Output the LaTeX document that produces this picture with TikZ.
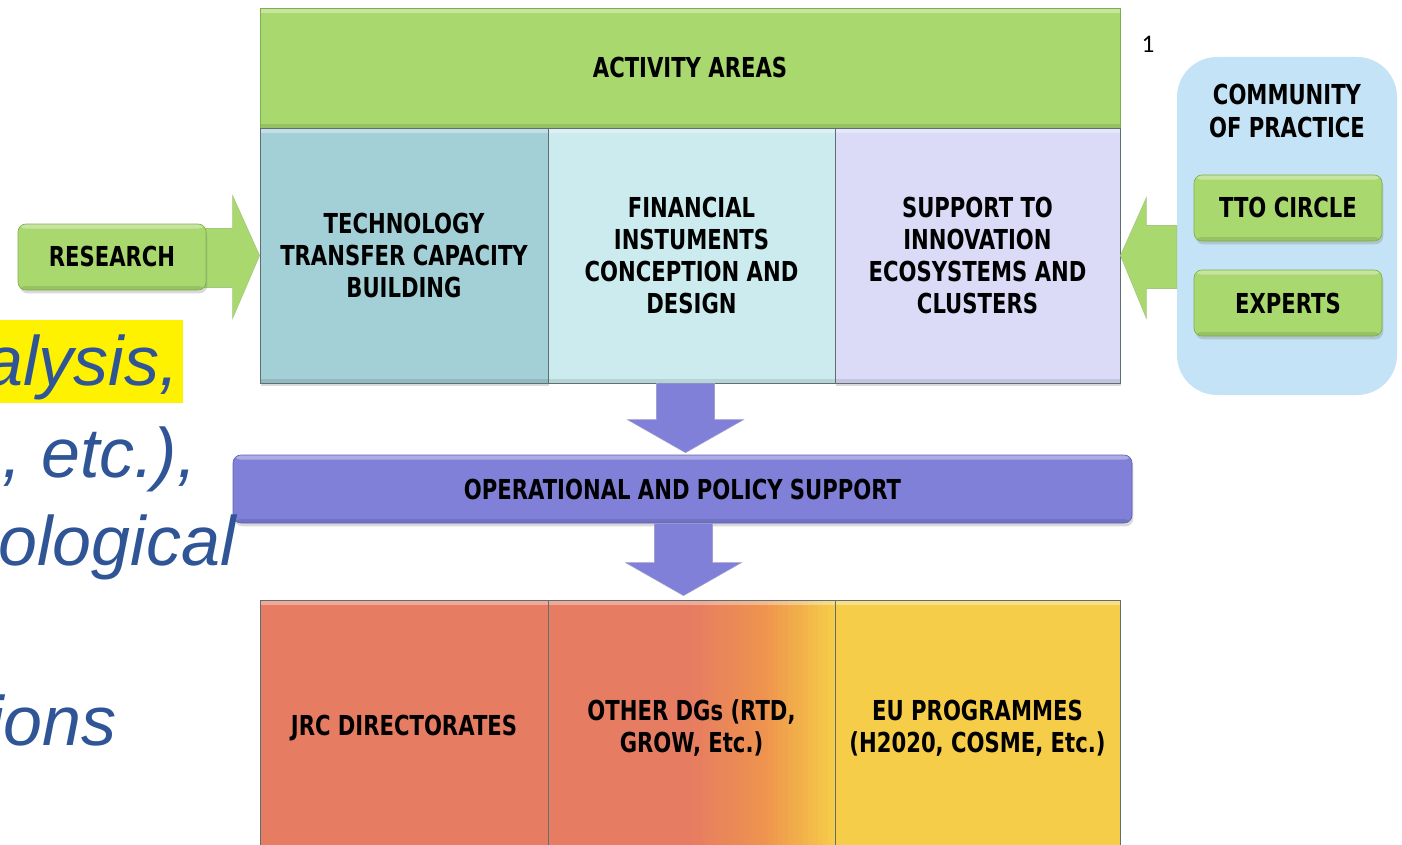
\documentclass[tikz,border=0pt]{standalone}
\usepackage{fontspec}
\usetikzlibrary{calc,shadows}
\newfontfamily\boxfont{DejaVu Sans}[FakeStretch=0.77]
\newfontfamily\itxfont{Liberation Sans}
\newfontfamily\numfont{Carlito}
\definecolor{grn}{RGB}{169,216,110}
\definecolor{grnD}{RGB}{125,175,75}
\definecolor{tealA}{RGB}{163,207,214}
\definecolor{tealB}{RGB}{203,235,238}
\definecolor{lilac}{RGB}{219,219,248}
\definecolor{purp}{RGB}{128,128,217}
\definecolor{purpD}{RGB}{95,95,175}
\definecolor{salm}{RGB}{230,124,98}
\definecolor{orng}{RGB}{238,148,78}
\definecolor{yel}{RGB}{246,205,72}
\definecolor{copb}{RGB}{197,227,246}
\definecolor{itblue}{RGB}{47,85,151}
\definecolor{edge}{RGB}{95,110,112}
\tikzset{
  lbl/.style={font=\boxfont\bfseries\fontsize{20.6}{24.2}\selectfont, text=black, align=center, inner sep=0pt},
  cell/.style={lbl, draw=edge, line width=0.6pt},
  shad/.style={drop shadow={shadow xshift=1pt, shadow yshift=-2.5pt, opacity=0.3}},
  bevel/.style={path picture={
     \fill[white, opacity=0.35] (path picture bounding box.north west) rectangle ([yshift=-3.5pt]path picture bounding box.north east);
     \fill[black, opacity=0.10] ([yshift=3pt]path picture bounding box.south west) rectangle (path picture bounding box.south east);}},
  gbox/.style={lbl, fill=grn, draw=grnD, line width=0.5pt, rounded corners=6pt,
     minimum width=141pt, minimum height=49.5pt, shad, bevel},
  garrow/.style={fill=grn, draw=grnD!70, line width=0.4pt},
  parrow/.style={fill=purp, draw=purpD!60, line width=0.4pt},
  itx/.style={font=\itxfont\itshape\fontsize{52.5}{62}\selectfont, text=itblue, inner sep=0pt},
}
\begin{document}
\begin{tikzpicture}[x=0.75pt, y=-0.75pt]
\useasboundingbox (0,0) rectangle (1402,845);

% community of practice container
\node[fill=copb, rounded corners=30pt, minimum width=165pt, minimum height=253.5pt, inner sep=0pt] (cop) at (1287,226) {};

% top boxes
\node[cell, fill=grn, draw=grnD, minimum width=645pt, minimum height=90pt, shad, bevel] (act) at (690,68) {ACTIVITY AREAS};
\node[cell, fill=tealA, minimum width=216pt, minimum height=191.25pt, shad, bevel] (b1) at (404,255.5) {TECHNOLOGY\\TRANSFER CAPACITY\\BUILDING};
\node[cell, fill=tealB, minimum width=215.25pt, minimum height=191.25pt, bevel] (b2) at (691.5,255.5) {FINANCIAL\\INSTUMENTS\\CONCEPTION AND\\DESIGN};
\node[cell, fill=lilac, minimum width=213.75pt, minimum height=191.25pt, shad, bevel] (b3) at (977.5,255.5) {SUPPORT TO\\INNOVATION\\ECOSYSTEMS AND\\CLUSTERS};

% arrow research -> b1
\coordinate (rese) at (206,257);
\path[garrow] ($(rese |- b1.west)+(-8,-27)$) -- ($(b1.west)+(-27,-27)$) -- ($(b1.west)+(-27,-60)$) -- (b1.west)
   -- ($(b1.west)+(-27,63)$) -- ($(b1.west)+(-27,32)$) -- ($(rese |- b1.west)+(-8,32)$) -- cycle;
\node[gbox] (res) at (112,257) {RESEARCH};

% arrow cop -> b3
\path[garrow] ($(cop.west |- b3.east)+(0,-30)$) -- ($(b3.east)+(26,-30)$) -- ($(b3.east)+(26,-58)$) -- (b3.east)
   -- ($(b3.east)+(26,63)$) -- ($(b3.east)+(26,33)$) -- ($(cop.west |- b3.east)+(0,33)$) -- cycle;

% community label and members
\node[lbl] (copl) at (1287,111) {COMMUNITY\\OF PRACTICE};
\node[gbox] (tto) at (1288,208) {TTO CIRCLE};
\node[gbox] (exp) at (1288,303) {EXPERTS};

% operational bar
\node[lbl, fill=purp, draw=purpD, line width=0.5pt, rounded corners=6pt, minimum width=674.25pt, minimum height=51pt, shad, bevel] (ops) at (682.5,489) {OPERATIONAL AND POLICY SUPPORT};

% down arrow b2 -> ops
\coordinate (t1) at ($(ops.north)+(3,-2)$);
\path[parrow] ($(b2.south -| t1)+(-29,0)$) -- ($(t1)+(-29,-33)$) -- ($(t1)+(-58,-33)$) -- (t1)
   -- ($(t1)+(58,-33)$) -- ($(t1)+(29,-33)$) -- ($(b2.south -| t1)+(29,0)$) -- cycle;

% bottom boxes
\node[cell, fill=salm, minimum width=216pt, minimum height=192pt, shad, bevel] (c1) at (404,728) {JRC DIRECTORATES};
% gradient of the middle box, salmon -> orange -> yellow
\fill[salm, drop shadow={shadow xshift=1pt, shadow yshift=-2.5pt, opacity=0.3}] (548,600) rectangle (835,856);
\foreach \i in {0,...,29}{
  \pgfmathsetmacro{\xa}{688+\i*5}
  \pgfmathtruncatemacro{\pa}{\i<15 ? 100-\i*100/15 : 0}
  \pgfmathtruncatemacro{\pb}{\i<15 ? 0 : 100-(\i-15)*100/14}
  \ifnum\i<15
    \fill[salm!\pa!orng, draw=salm!\pa!orng, line width=0.2pt] (\xa,600) rectangle ({\xa+5},856);
  \else
    \fill[orng!\pb!yel, draw=orng!\pb!yel, line width=0.2pt] (\xa,600) rectangle ({\xa+5},856);
  \fi
}
\node[cell, minimum width=215.25pt, minimum height=192pt, bevel] (c2) at (691.5,728) {OTHER DGs (RTD,\\GROW, Etc.)};
\node[cell, fill=yel, minimum width=213.75pt, minimum height=192pt, shad, bevel] (c3) at (977.5,728) {EU PROGRAMMES\\(H2020, COSME, Etc.)};

% down arrow ops -> c2
\coordinate (t2) at ($(ops.south |- c2.north)+(1,-4)$);
\path[parrow] ($(ops.south -| t2)+(-29,0)$) -- ($(t2)+(-29,-33)$) -- ($(t2)+(-58,-33)$) -- (t2)
   -- ($(t2)+(58,-33)$) -- ($(t2)+(29,-33)$) -- ($(ops.south -| t2)+(29,0)$) -- cycle;

% page number
\node[font=\numfont\fontsize{19}{22}\selectfont, inner sep=0pt] (pg) at (1148,44) {1};

% italic slide text, cut at the left edge
\begin{scope}
\clip (0,0) rectangle (1402,845);
\fill[yellow] (0,320) rectangle (183,403);
\node[itx, anchor=base east] (i1) at (179,385) {alysis,};
\node[itx, anchor=base east] (i2) at (197,477) {, etc.),};
\node[itx, anchor=base east] (i3) at (236,565) {ological};
\node[itx, anchor=base east] (i4) at (117,745) {ions};
\end{scope}
\end{tikzpicture}
\end{document}
